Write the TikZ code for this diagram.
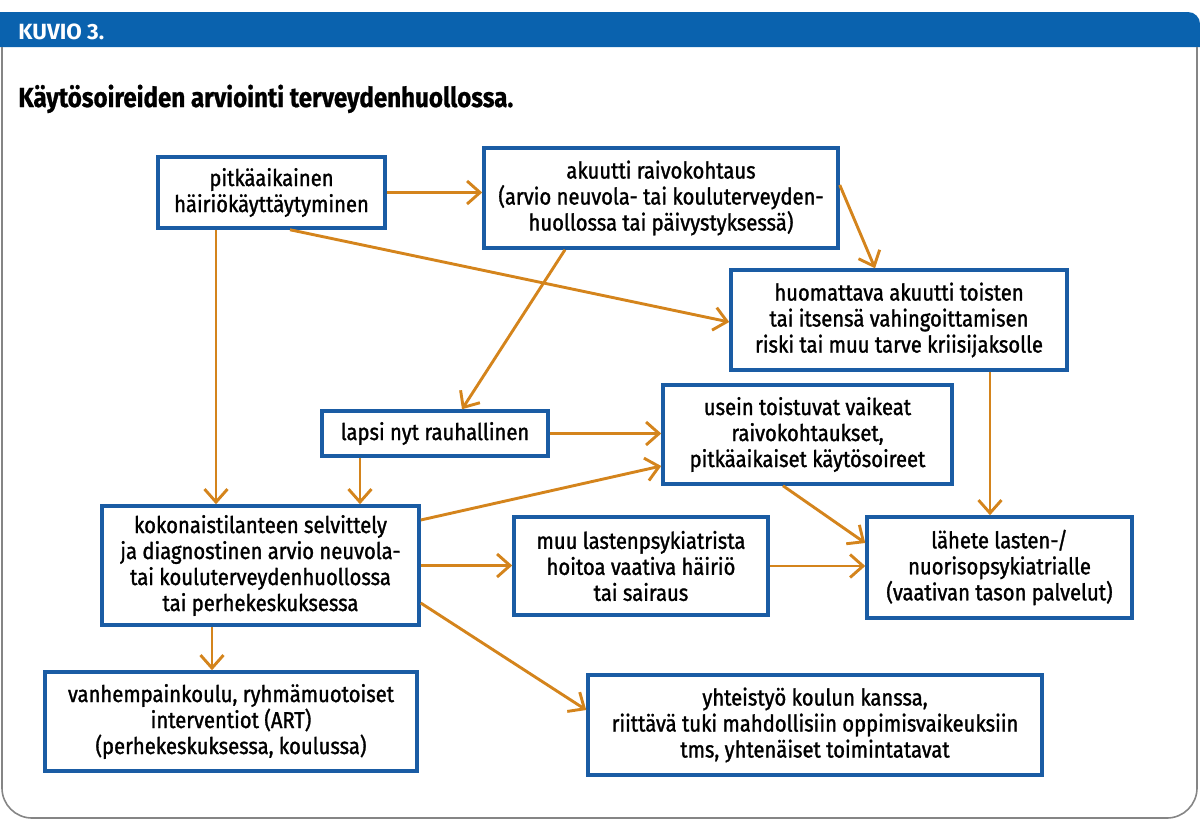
\documentclass[tikz,border=0pt]{standalone}
\usepackage{fontspec}
\setmainfont{Fira Sans}[FakeStretch=0.88]
\newfontfamily\boxfont{Fira Sans}[FakeStretch=0.88, FakeBold=1.3]
\newfontfamily\titlefont{Fira Sans}[FakeStretch=0.875, FakeBold=0.8]
\newfontfamily\hdrfont{Fira Sans}[FakeStretch=1.02]
\usetikzlibrary{arrows.meta,calc}
\definecolor{boxblue}{HTML}{1A5CA4}
\definecolor{hdrblue}{HTML}{0A62AE}
\definecolor{arrorange}{HTML}{D4841C}
\definecolor{framegray}{HTML}{858585}
\tikzset{
  boxnode/.style={draw=boxblue, line width=1.75pt, fill=white, align=center, inner sep=0pt,
    font=\boxfont\fontsize{11.5pt}{13pt}\selectfont},
  arr/.style={draw=arrorange, line width=1.45pt, -{Straight Barb[length=6.5pt,width=11.5pt,line width=1.45pt]}},
}
\begin{document}
\begin{tikzpicture}[x=0.5pt,y=-0.5pt]
\useasboundingbox (0,0) rectangle (1200,821);
% header and frame
\fill[hdrblue] (0,12) -- (1188,12) to[out=0,in=90] (1200,24) -- (1200,47) -- (0,47) -- cycle;
\draw[framegray, line width=0.8pt, rounded corners=15pt] (2,47) -- (2,818) -- (1197,818) -- (1197,47);
\node[anchor=base west, text=white, font=\hdrfont\bfseries\fontsize{11pt}{13pt}\selectfont, inner sep=0pt] (hdr) at (18,39) {KUVIO 3.};
\node[anchor=base west, font=\titlefont\bfseries\fontsize{13.8pt}{16pt}\selectfont, inner sep=0pt] (title) at (18,107) {Käytösoireiden arviointi terveydenhuollossa.};
% boxes
\node[boxnode, minimum width=113.5pt, minimum height=35.5pt] (n1) at (271.5,192.5) {pitkäaikainen\\häiriökäyttäytyminen};
\node[boxnode, minimum width=177pt, minimum height=50pt] (n2) at (661,198) {akuutti raivokohtaus\\(arvio neuvola- tai kouluterveyden-\\huollossa tai päivystyksessä)};
\node[boxnode, minimum width=168pt, minimum height=50pt] (n3) at (899,320) {huomattava akuutti toisten\\tai itsensä vahingoittamisen\\riski tai muu tarve kriisijaksolle};
\node[boxnode, minimum width=113pt, minimum height=22.5pt] (n4) at (435,433.5) {lapsi nyt rauhallinen};
\node[boxnode, minimum width=144.5pt, minimum height=49.5pt] (n5) at (807.5,434.5) {usein toistuvat vaikeat\\raivokohtaukset,\\pitkäaikaiset käytösoireet};
\node[boxnode, minimum width=158.5pt, minimum height=59.5pt] (n6) at (260.5,565.5) {kokonaistilanteen selvittely\\ja diagnostinen arvio neuvola-\\tai kouluterveydenhuollossa\\tai perhekeskuksessa};
\node[boxnode, minimum width=127pt, minimum height=49pt] (n7) at (641,566) {muu lastenpsykiatrista\\hoitoa vaativa häiriö\\tai sairaus};
\node[boxnode, minimum width=132.5pt, minimum height=50.5pt] (n8) at (999.5,567.5) {lähete lasten-/\\nuorisopsykiatrialle\\(vaativan tason palvelut)};
\node[boxnode, minimum width=186pt, minimum height=49.5pt] (n9) at (231,721.5) {vanhempainkoulu, ryhmämuotoiset\\interventiot (ART)\\(perhekeskuksessa, koulussa)};
\node[boxnode, minimum width=227pt, minimum height=50pt] (n10) at (815,725) {yhteistyö koulun kanssa,\\riittävä tuki mahdollisiin oppimisvaikeuksiin\\tms, yhtenäiset toimintatavat};
% arrows
\draw[arr] (n1.east) -- (n1.east -| n2.west);
\draw[arr] ([xshift=-27.75pt]n1.south) -- ([xshift=-27.75pt]n1.south |- n6.north);
\draw[arr] ([xshift=9.25pt]n1.south) -- ([yshift=-1pt]n3.west);
\draw[arr] ([xshift=-48pt]n2.south) -- ([xshift=13.5pt]n4.north);
\draw[arr] ([yshift=6.5pt]n2.east) -- ([xshift=-12pt]n3.north);
\draw[arr] ([xshift=45.5pt]n3.south) -- ([xshift=45.5pt]n3.south |- n8.north);
\draw[arr] (n4.east) -- (n4.east -| n5.west);
\draw[arr] ([xshift=-37.5pt]n4.south) -- ([xshift=-37.5pt]n4.south |- n6.north);
\draw[arr] ([yshift=22.75pt]n6.east) -- ([yshift=-15.75pt]n5.west);
\draw[arr] ([xshift=-12.25pt]n5.south) -- ([yshift=12.25pt]n8.west);
\draw[arr] (n6.east) -- (n6.east -| n7.west);
\draw[arr] (n7.east) -- (n7.east -| n8.west);
\draw[arr] ([xshift=-24.25pt]n6.south) -- ([xshift=-24.25pt]n6.south |- n9.north);
\draw[arr] ([yshift=-18.75pt]n6.east) -- ([yshift=7.5pt]n10.west);
\end{tikzpicture}
\end{document}
